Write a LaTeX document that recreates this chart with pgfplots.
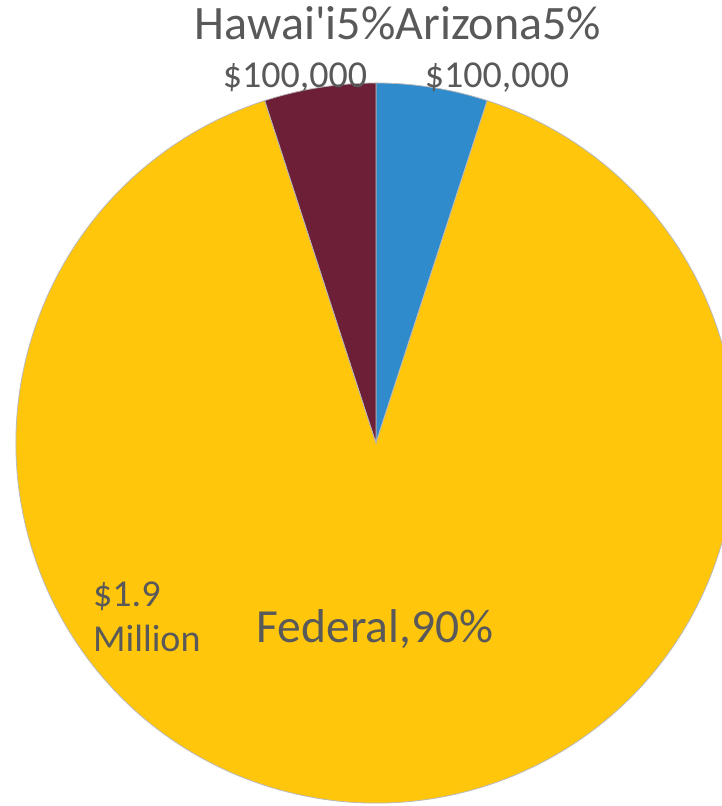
\documentclass[border=0pt]{standalone}
\usepackage{pgfplots}
\pgfplotsset{compat=1.18}
\usepackage{fontspec}
\setmainfont{Carlito}

\definecolor{azblue}{HTML}{2F8BCC}
\definecolor{azmaroon}{HTML}{6D1F37}
\definecolor{azgold}{HTML}{FFC60B}
\definecolor{lbl}{HTML}{595959}

% one wedge: start angle, percent, colour (centre 376,363, radius 360)
\newcommand\slice[3]{%
  \fill[#3, draw=gray!55, line width=0.8bp]
    (axis cs:376,363) -- ++(#1:360bp)
    arc[start angle=#1, delta angle=-#2*3.6, radius=360bp] -- cycle;}

\begin{document}
\begin{tikzpicture}
\begin{axis}[
    scale only axis,
    width=722bp, height=806bp,
    xmin=0, xmax=722, ymin=0, ymax=806,
    hide axis,
    clip=true,
]
% Arizona 5, Federal 90, Hawai'i 5 -- clockwise from 12 o'clock
\slice{90}{5}{azblue}
\slice{72}{90}{azgold}
\slice{-252}{5}{azmaroon}

\node[anchor=base, text=lbl, font=\fontsize{48bp}{52bp}\selectfont]
  at (axis cs:398,766) {Hawai\textquotesingle i5\%Arizona5\%};
\node[anchor=base, text=lbl, font=\fontsize{38bp}{41bp}\selectfont]
  at (axis cs:295,718) {\$100,000};
\node[anchor=base, text=lbl, font=\fontsize{38bp}{41bp}\selectfont]
  at (axis cs:497,718) {\$100,000};
\node[anchor=base west, inner sep=0pt, text=lbl, font=\fontsize{38bp}{41bp}\selectfont]
  at (axis cs:93,199) {\$1.9};
\node[anchor=base west, inner sep=0pt, text=lbl, font=\fontsize{38bp}{41bp}\selectfont]
  at (axis cs:93,154) {Million};
\node[anchor=base, text=lbl, font=\fontsize{47.5bp}{51bp}\selectfont]
  at (axis cs:375,163) {Federal,90\%};
\end{axis}
\pgfresetboundingbox
\useasboundingbox (current axis.south west) rectangle (current axis.north east);
\end{tikzpicture}
\end{document}
